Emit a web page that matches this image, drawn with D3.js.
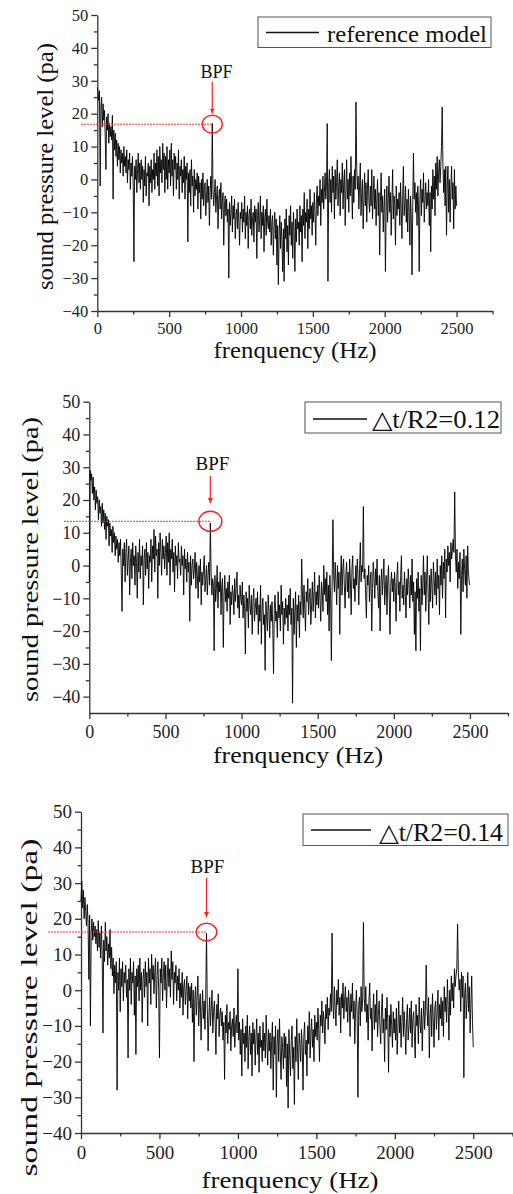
<!DOCTYPE html>
<html>
<head>
<meta charset="utf-8">
<script src="https://cdn.jsdelivr.net/npm/d3@7"></script>
<style>
  body { margin: 0; background: #fff; }
  svg { display: block; }
</style>
</head>
<body>
<div id="chart"></div>
<script>
// spectra sampled every 5 Hz, 0 .. 2500 Hz
const freqStep = 5;

const splReference = [
  28, 26, 24, 27, -2, 22, 25, 16, 23, 18, 21, 13, 3, 19, 15, 20, 11, 17, 13, 16,
  12, 19.5, -6, 15, 9, 14, 7, 12, 4, 11, 6, 10, 2, 9, 5, 8, 1, 10, 4, 7,
  2, 9, -1, 6, 3, 8, -3, 5, 1, 7, -2, -25, 4, 0, 6, -4, 3, 8, -1, 5,
  -3, 6, 0, 4, -7, 3, -2, 7, -5, 2, 1, 5, -8, 4, -1, 6, -4, 3, 0, 8,
  -3, 5, 1, 9, -2, 7, -5, 10, 2, 6, -1, 11, 3, 8, -4, 7, 0, 10, -3, 6,
  2, 9, -2, 11, 1, 6, -5, 8, 3, 7, -3, 5, 0, 9, -6, 4, 1, 6, -4, 3,
  -1, 7, -6, 4, 0, 5, -19, 2, -4, 3, -8, 6, -2, 1, -10, 3, -5, 0, -3, 2,
  -9, 1, -4, -1, -12, 0, -6, 2, -8, -3, -1, -11, -5, 0, -7, -2, -14, -4, 1, -6,
  17, -3, -8, -4, 0, -10, -5, -2, -15, -6, -3, -9, -1, -12, -7, -4, -20, -8, -5, -11,
  -6, -13, -9, -30, -7, -14, -10, -5, -16, -8, -12, -6, -18, -11, -9, -15, -7, -13, -20, -10,
  -12, -7, -16, -9, -13, -5, -18, -10, -14, -8, -21, -11, -9, -15, -6, -17, -12, -10, -19, -8,
  -13, -9, -24, -11, -7, -16, -12, -5, -18, -10, -14, -8, -22, -12, -9, -17, -6, -13, -15, -11,
  -16, -9, -20, -13, -11, -23, -15, -10, -18, -12, -26, -14, -32, -17, -11, -21, -13, -19, -28, -15,
  -31, -12, -18, -9, -22, -14, -26, -11, -17, -8, -20, -13, -24, -10, -16, -28, -12, -19, -9, -15,
  -13, -20, -8, -16, -11, -25, -9, -14, -4, -18, -10, -13, -6, -21, -9, -15, -3, -12, -8, -17,
  -7, -13, -4, -10, -20, -6, -2, -11, -5, -8, 0, -14, -3, -7, 1, -9, -4, 2, -6, -1,
  17, -31, -2, 3, -7, 0, -10, 4, -4, 1, -12, 3, -6, -1, 6, -8, -2, 2, -11, 0,
  -4, 5, -9, -1, 3, -14, -3, 6, -6, 0, -10, 2, -5, 7, -2, -12, 1, -7, 3, -3,
  23.5, 4, -3, 1, -9, -2, 5, -11, -4, 0, -15, -6, 2, -8, -1, -13, -3, 3, -7, -10,
  -2, -8, 3, -12, -5, 1, -9, -3, -14, -6, 0, -11, -4, -23, -7, 2, -10, -5, -16, -8,
  -3, -28, -9, -2, -13, -6, 1, -10, -4, -17, -7, 3, -12, -5, -8, -20, -2, -11, -6, -9,
  -4, -14, -1, -9, -18, -5, 4, -11, -7, -2, -13, -6, -16, -3, -10, -20, -5, -12, -29, -8,
  8, -6, -1, -10, -4, -14, -2, -8, -28, -5, 0, -11, -3, -7, 2, -13, -6, -1, -9, -4,
  -8, 0, -14, -4, -22, -2, -9, 3, -6, 1, -11, 5, -3, 7, -5, 2, 6, -1, 4, 10,
  22, 5, -4, 3, -8, 4, -17, -2, 4, -10, 0, -13, -3, 4, -6, -1, -15, 3, -9, -2,
  -8
];

const splDt012 = [
  -5, 29, 26, 28, 22, 27, 20, 24, 17, 23, 19, 21, 14, 20, 16, 18, 12, 19, 13, 17,
  11, 16, 8, 15, 12, 14, 6, 13, 9, 11, 4, 12, 7, 10, 3, 9, 5, 8, 1, 7,
  3, 8, -2, -14, 5, 0, 7, -5, 4, 8, -3, 2, 6, -9, 1, 5, -4, 7, 0, 3,
  -6, 6, 1, -10, 4, -2, 8, -4, 3, 0, 6, -12, 2, 5, -3, 7, -1, 4, -7, 3,
  1, 8, -5, 6, 2, 11, -2, 9, 3, 5, -10, 7, 0, 10, 4, -3, 8, 2, 6, -1,
  4, 9, -3, 7, 1, 10, -6, 5, 2, 8, -2, 4, -8, 6, 0, 3, -4, 7, 1, 2,
  -3, 6, 0, 3, -9, 5, -1, 2, -5, 4, -2, 1, -17, 3, -6, 0, 2, -4, -1, 4,
  -7, 1, -3, -10, 0, -5, 2, -12, -2, -6, -1, 3, -8, -4, 0, -9, -3, 1, -6, 13,
  -2, -9, -4, -6, -26, -3, -11, -7, 0, -13, -5, -8, -2, -15, -6, -4, -25, -9, -3, -11,
  -7, -14, -5, -10, -3, -18, -8, -12, -6, -9, -15, -4, -11, -7, -2, -13, -9, -16, -6, -10,
  -12, -5, -16, -9, -13, -27, -8, -14, -10, -19, -6, -12, -15, -9, -21, -11, -7, -17, -13, -10,
  -15, -8, -21, -12, -17, -6, -24, -13, -10, -18, -15, -32, -11, -16, -20, -9, -14, -22, -12, -17,
  -11, -19, -33, -13, -9, -17, -14, -22, -8, -16, -12, -20, -6, -15, -11, -24, -13, -18, -10, -16,
  -12, -20, -9, -15, -7, -18, -13, -42, -10, -21, -14, -8, -25, -12, -17, -9, -22, -11, -15, 2,
  -9, -16, -6, -13, -20, -8, -11, -4, -15, -10, -7, -18, -12, -5, -14, -9, -2, -16, -8, -12,
  -6, -13, -3, -10, -17, -5, -8, -14, 0, -9, -4, -11, -2, -15, -6, -20, -3, -10, -29, -5,
  14, -3, -8, 1, -5, -12, 0, -7, -2, -21, -4, 3, -9, -1, 2, -6, -13, -3, 1, -8,
  -2, -10, 2, -5, -15, -1, 3, -7, -4, -11, 0, -6, 2, -3, -12, -1, 7, -5, 0, -2,
  18, -4, -1, -9, -16, -3, -6, 0, -11, -5, -2, -20, -7, 1, -4, -10, -1, -6, 2, -8,
  -13, -3, -20, -6, -1, -9, -4, 2, -12, -7, -3, -15, -5, 0, -10, -21, -6, -2, -8, -4,
  -11, -2, -7, -17, -4, 1, -9, -5, -14, -3, 3, -10, -6, -12, -2, -8, -16, -4, -9, -1,
  -6, -13, -3, -9, 2, -11, -5, -21, -8, -26, -4, -10, -2, -14, -7, -26, -3, -12, -6, 3,
  -9, -2, -14, -5, 3, -8, -18, -3, -11, -1, -6, -13, 1, -4, -9, -2, -12, 2, -7, -3,
  -15, 0, -6, 3, -10, 1, -4, 5, -16, 2, -2, 6, 0, 4, -5, 7, 2, 5, 8, 4,
  22.5, 3, -2, 5, -7, 1, -4, 4, -21, -3, 2, -8, 5, -1, -6, 3, -10, 6, -2, -5,
  -6
];

const splDt014 = [
  25, 30.5, 23, 28, 20, 26, 22, 18, 24, 19, 3, 21, -10, 16, 20, 14, 19, 15, 18, 13,
  17, 11, 19.5, 12, 16, 9, 18, 10, -12, 14, 8, 19, 11, 15, 7, 13, 9, 17, 6, 12,
  4, 9, -1, 7, 2, 8, -28, 5, 0, 9, -6, 6, 1, 8, -3, 5, 2, 7, -2, 3,
  -19, 6, 0, 9, -4, 5, 2, 8, -7, 4, -18, 6, 1, 7, -3, 9, 0, 5, -9, 3,
  6, -2, 8, 1, 5, -10, 9, 2, 6, -4, 10, 3, 7, -1, 5, 9, -5, 4, 8, 0,
  -19, 6, 2, 9, -3, 5, 8, 0, 7, -5, 4, 9, 1, 6, -2, 11, 3, 8, -4, 5,
  2, 7, -3, 4, 0, 6, -5, 2, -2, 5, -7, 1, 3, -4, 0, 4, -8, 2, -3, 1,
  -5, 2, -9, 0, -20, -3, 1, -7, -2, 4, -10, -4, -1, -14, -6, 0, -8, -3, -11, -2,
  16, -5, -17, -7, -2, -10, -5, 0, -12, -6, -3, -9, -18, -4, -8, -1, -13, -7, -5, -10,
  -6, -14, -9, -25, -7, -12, -4, -15, -9, -11, -6, -17, -10, -8, -13, -5, -16, -10, -7, -12,
  6, -14, -9, -18, -11, -24, -8, -15, -12, -20, -10, -16, -7, -22, -13, -10, -18, -12, -24, -9,
  -15, -11, -21, -13, -8, -18, -12, -23, -10, -16, -14, -20, -9, -17, -12, -19, -7, -14, -21, -11,
  -17, -12, -22, -14, -9, -28, -13, -18, -10, -30, -15, -11, -20, -8, -17, -25, -13, -16, -22, -12,
  -19, -13, -27, -15, -33, -11, -18, -24, -14, -10, -22, -16, -32, -13, -20, -8, -17, -25, -12, -15,
  -20, -11, -16, -28, -13, -9, -18, -14, -24, -10, -15, -6, -19, -12, -8, -16, -11, -20, -7, -13,
  -9, -14, -5, -11, -20, -7, -10, -3, -12, -6, -9, -15, -4, -8, -2, -11, -5, -7, -1, -6,
  16, -3, -8, 1, -5, -10, 0, -4, 3, -7, -2, -12, -1, -5, 2, -8, -3, 1, -6, -2,
  -9, 0, -4, -13, -1, -6, 2, -8, -3, -15, -5, 0, -7, -30, -4, -2, -10, 1, -6, -3,
  19, -2, -6, 1, -9, -4, -14, -3, 2, -8, -5, -17, -6, -1, -11, -4, -9, 0, -13, -7,
  -3, -10, -15, -6, -1, -12, -8, -20, -5, -11, -2, -9, -23, -7, -13, -4, -10, -16, -6, -12,
  -8, -14, -5, -18, -10, -3, -12, -7, -16, -9, -2, -13, -6, -11, -18, -8, -4, -14, -10, -5,
  -12, -3, -16, -8, -6, -13, -19, -4, -10, -7, -15, -2, -9, -12, -5, -17, -8, -3, -11, -6,
  7, -5, -10, -2, -19, -7, -4, -13, -1, -8, -16, -5, -3, -11, -6, 0, -14, -4, -8, -2,
  -10, -3, -13, 1, -6, -2, -9, 3, -4, -14, 0, -7, 4, -3, 2, -5, 6, 1, 4, 6,
  18.5, 5, 0, 3, -6, 5, -2, 4, -24.5, -1, 2, -8, -3, 5, -6, 1, -12, -4, 4, -9,
  -16
];

const legendLabels = ["reference model", "\u25B3t/R2=0.12", "\u25B3t/R2=0.14"];
const bpfFreq = [800, 795, 800];
const bpfLevel = [16.8, 13.5, 16.3];
const xTicks = [0, 500, 1000, 1500, 2000, 2500];
const xMinor = [250, 750, 1250, 1750, 2250, 2750];
const yTicks = [-40, -30, -20, -10, 0, 10, 20, 30, 40, 50];
const yMinor = [-35, -25, -15, -5, 5, 15, 25, 35, 45];

const W = 513, H = 1194;
const serif = "Liberation Serif, Times New Roman, serif";
const svg = d3.select("#chart").append("svg")
  .attr("width", W).attr("height", H)
  .attr("font-family", serif);

svg.append("defs").append("marker")
  .attr("id", "arrow")
  .attr("viewBox", "0 0 10 10")
  .attr("refX", 10).attr("refY", 5)
  .attr("markerWidth", 5).attr("markerHeight", 6)
  .attr("markerUnits", "userSpaceOnUse")
  .attr("orient", "auto")
  .append("path").attr("d", "M0,0 L10,5 L0,10 z").attr("fill", "#ff2020");

// pixel layout of the three stacked panels
const panels = [
  { values: splReference, i: 0, left: 97.3, right: 492.5, top: 15, bottom: 311, yMin: -40,
    tickFont: 16.5, tickPad: 5, xTitleY: 358, xTitleX: 295, xTitleLen: 163,
    yTitleX: 53, yTitleY: 166.5, yTitleLen: 247,
    legend: { x0: 258, x1: 491, y0: 17, y1: 47.5, lx0: 266, lx1: 319, ly: 32.5, tx: 327, ty: 42, tlen: 160, fs: 24 },
    bpf: { tx: 216.5, ty: 78.3, fs: 18, a0: 82, a1: 113.5, rx: 10, ry: 9, dashX: 81 } },
  { values: splDt012, i: 1, left: 89.3, right: 508, top: 401.7, bottom: 713, yMin: -45,
    tickFont: 18, tickPad: 6, xTitleY: 763, xTitleX: 298, xTitleLen: 170,
    yTitleX: 38, yTitleY: 559.5, yTitleLen: 285,
    legend: { x0: 305, x1: 501, y0: 402, y1: 433, lx0: 313, lx1: 367, ly: 419, tx: 372, ty: 428, tlen: 128, fs: 25 },
    bpf: { tx: 212.5, ty: 470, fs: 19, a0: 476, a1: 503, rx: 11.5, ry: 10, dashX: 64 } },
  { values: splDt014, i: 2, left: 81, right: 512.5, top: 811.7, bottom: 1133, yMin: -40,
    tickFont: 19, tickPad: 7, xTitleY: 1188, xTitleX: 290, xTitleLen: 177,
    yTitleX: 37, yTitleY: 1007.5, yTitleLen: 338,
    legend: { x0: 303, x1: 508, y0: 814, y1: 845.5, lx0: 311, lx1: 371, ly: 830, tx: 379, ty: 841, tlen: 124, fs: 25 },
    bpf: { tx: 207.5, ty: 873.3, fs: 19, a0: 878, a1: 917, rx: 10.3, ry: 8.7, dashX: 48 } }
];

panels.forEach(p => {
  const x = d3.scaleLinear().domain([0, 2750]).range([p.left, p.right]);
  const y = d3.scaleLinear().domain([p.yMin, 50]).range([p.bottom, p.top]);
  const g = svg.append("g");

  // axes: major + minor ticks
  g.append("g").attr("transform", `translate(0,${p.bottom})`)
    .call(d3.axisBottom(x).tickValues(xTicks).tickFormat(d3.format("d"))
      .tickSize(6).tickSizeOuter(0).tickPadding(p.tickPad));
  g.append("g").attr("transform", `translate(0,${p.bottom})`)
    .call(d3.axisBottom(x).tickValues(xMinor).tickSize(3.5).tickSizeOuter(0).tickFormat(""))
    .select(".domain").remove();
  g.append("g").attr("transform", `translate(${p.left},0)`)
    .call(d3.axisLeft(y).tickValues(yTicks).tickFormat(d3.format("d"))
      .tickSize(6).tickSizeOuter(0).tickPadding(3));
  g.append("g").attr("transform", `translate(${p.left},0)`)
    .call(d3.axisLeft(y).tickValues(yMinor).tickSize(3.5).tickSizeOuter(0).tickFormat(""))
    .select(".domain").remove();

  g.selectAll("g").attr("font-family", serif).attr("font-size", p.tickFont);
  g.selectAll(".domain, .tick line").attr("stroke", "#333").attr("stroke-width", 1.3);
  g.selectAll(".tick text").attr("fill", "#222");

  // spectrum
  const line = d3.line()
    .x((d, k) => x(k * freqStep))
    .y(d => y(d));
  g.append("path")
    .attr("d", line(p.values))
    .attr("fill", "none")
    .attr("stroke", "#000")
    .attr("stroke-width", 0.9);

  // titles
  g.append("text")
    .attr("x", p.xTitleX).attr("y", p.xTitleY)
    .attr("text-anchor", "middle")
    .attr("textLength", p.xTitleLen).attr("lengthAdjust", "spacingAndGlyphs")
    .attr("font-size", 23).attr("fill", "#111")
    .text("frenquency (Hz)");
  g.append("text")
    .attr("transform", `translate(${p.yTitleX},${p.yTitleY}) rotate(-90)`)
    .attr("text-anchor", "middle")
    .attr("textLength", p.yTitleLen).attr("lengthAdjust", "spacingAndGlyphs")
    .attr("font-size", 23).attr("fill", "#111")
    .text("sound pressure level (pa)");

  // legend
  const L = p.legend;
  g.append("rect")
    .attr("x", L.x0).attr("y", L.y0)
    .attr("width", L.x1 - L.x0).attr("height", L.y1 - L.y0)
    .attr("fill", "#fff").attr("stroke", "#555").attr("stroke-width", 1);
  g.append("line")
    .attr("x1", L.lx0).attr("x2", L.lx1).attr("y1", L.ly).attr("y2", L.ly)
    .attr("stroke", "#111").attr("stroke-width", 1.4);
  g.append("text")
    .attr("x", L.tx).attr("y", L.ty)
    .attr("textLength", L.tlen).attr("lengthAdjust", "spacingAndGlyphs")
    .attr("font-size", L.fs).attr("fill", "#111")
    .text(legendLabels[p.i]);

  // BPF annotation
  const B = p.bpf;
  const bx = x(bpfFreq[p.i]), by = y(bpfLevel[p.i]);
  g.append("line")
    .attr("x1", B.dashX).attr("x2", bx).attr("y1", by).attr("y2", by)
    .attr("stroke", "#ff3030").attr("stroke-width", 1)
    .attr("stroke-dasharray", "2,1");
  g.append("ellipse")
    .attr("cx", bx).attr("cy", by).attr("rx", B.rx).attr("ry", B.ry)
    .attr("fill", "none").attr("stroke", "#ff2020").attr("stroke-width", 1.4);
  g.append("line")
    .attr("x1", bx).attr("x2", bx).attr("y1", B.a0).attr("y2", B.a1)
    .attr("stroke", "#ff2020").attr("stroke-width", 1.2)
    .attr("marker-end", "url(#arrow)");
  g.append("text")
    .attr("x", B.tx).attr("y", B.ty)
    .attr("text-anchor", "middle")
    .attr("font-size", B.fs).attr("fill", "#111")
    .text("BPF");
});
</script>
</body>
</html>
